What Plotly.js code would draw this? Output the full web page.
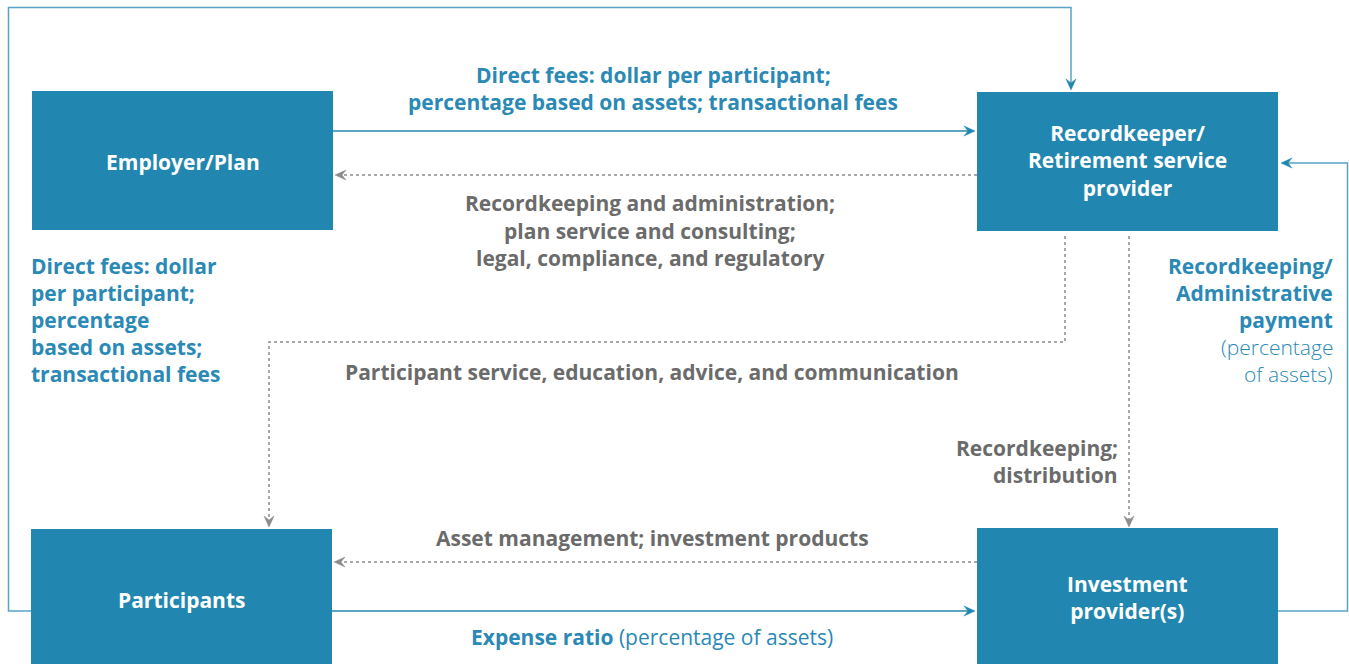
<!DOCTYPE html>
<html>
<head>
<meta charset="utf-8">
<script src="https://cdn.plot.ly/plotly-3.0.1.min.js"></script>
<style>html,body{margin:0;padding:0;background:#fff;}#chart{width:1349px;height:664px;}</style>
</head>
<body>
<div id="chart"></div>
<script>
// ---- content ----
var boxLabels = ["Employer/Plan", "Recordkeeper/<br>Retirement service<br>provider", "Participants", "Investment<br>provider(s)"];
var topFlowLabel = ["Direct fees: dollar per participant;", "percentage based on assets; transactional fees"];
var serviceLabel = ["Recordkeeping and administration;", "plan service and consulting;", "legal, compliance, and regulatory"];
var participantServiceLabel = ["Participant service, education, advice, and communication"];
var leftFeeLabel = ["Direct fees: dollar", "per participant;", "percentage", "based on assets;", "transactional fees"];
var rightPaymentBold = ["Recordkeeping/", "Administrative", "payment"];
var rightPaymentLight = ["(percentage", "of assets)"];
var distributionLabel = ["Recordkeeping;", "distribution"];
var assetLabel = ["Asset management; investment products"];
var expenseBold = "Expense ratio";
var expenseLight = " (percentage of assets)";

// ---- layout geometry ----
var boxX0 = [32, 977, 31, 977], boxX1 = [333, 1278, 332, 1278];
var boxY0 = [91, 92, 529, 528], boxY1 = [230, 231, 664, 664];
var boxLabelY = [162, 160, 600, 597];

var BLUE = "#2287b0", TXTBLUE = "#2a89b5", LOOP = "#5aa3c6", GRAY = "#8c8c8c", TXTGRAY = "#6b6b6b";
var FONT = "'Open Sans', Roboto, sans-serif";
var FS = 21;

var shapes = [], annotations = [];

function line(x0, y0, x1, y1, color, dash, w) {
  shapes.push({type: "line", xref: "x", yref: "y", x0: x0, y0: y0, x1: x1, y1: y1,
    line: {color: color, width: w || 1.5, dash: dash || "solid"}, layer: "below"});
}
function path(pts, color, dash, w) {
  var d = "M" + pts.map(function(p){return p[0] + "," + p[1];}).join(" L");
  shapes.push({type: "path", xref: "x", yref: "y", path: d,
    line: {color: color, width: w || 1.5, dash: dash || "solid"}, layer: "below"});
}
// barbed arrowhead; dir: 'r','l','u','d'
function head(x, y, dir, color) {
  var L = 11, W = 5, N = 7, p;
  if (dir === "r") p = [[x, y], [x - L, y - W], [x - N, y], [x - L, y + W]];
  if (dir === "l") p = [[x, y], [x + L, y - W], [x + N, y], [x + L, y + W]];
  if (dir === "d") p = [[x, y], [x - W, y - L], [x, y - N], [x + W, y - L]];
  if (dir === "u") p = [[x, y], [x - W, y + L], [x, y + N], [x + W, y + L]];
  var d = "M" + p.map(function(q){return q[0] + "," + q[1];}).join(" L") + " Z";
  shapes.push({type: "path", xref: "x", yref: "y", path: d, fillcolor: color,
    line: {color: color, width: 0.5}, layer: "above"});
}

// boxes
for (var i = 0; i < boxLabels.length; i++) {
  shapes.push({type: "rect", xref: "x", yref: "y", x0: boxX0[i], x1: boxX1[i], y0: boxY0[i], y1: boxY1[i],
    fillcolor: BLUE, line: {width: 0}, layer: "above"});
  annotations.push({x: (boxX0[i] + boxX1[i]) / 2, y: boxLabelY[i],
    xref: "x", yref: "y", text: "<b>" + boxLabels[i] + "</b>", showarrow: false,
    font: {family: FONT, size: FS, color: "#ffffff"}, align: "center", xanchor: "center", yanchor: "middle"});
}

// outer loop: Participants -> top -> Recordkeeper
path([[31, 611], [8.5, 611], [8.5, 7.5], [1071, 7.5], [1071, 88]], LOOP, "solid", 1.5);
head(1071, 90, "d", BLUE);
// Employer -> Recordkeeper
line(333, 131, 972, 131, BLUE, "solid", 1.5);
head(975, 131, "r", BLUE);
// Recordkeeper -> Employer (dotted)
line(977, 175, 340, 175, GRAY, "dot", 1.5);
head(335, 175, "l", GRAY);
// Recordkeeper -> Participants (dotted)
path([[1065, 236], [1065, 342], [269, 342], [269, 522]], GRAY, "dot", 1.5);
head(269, 527, "d", GRAY);
// Recordkeeper -> Investment (dotted)
line(1129, 236, 1129, 522, GRAY, "dot", 1.5);
head(1129, 527, "d", GRAY);
// Investment -> Participants (dotted)
line(977, 562, 340, 562, GRAY, "dot", 1.5);
head(334, 562, "l", GRAY);
// Participants -> Investment
line(332, 611, 972, 611, BLUE, "solid", 1.5);
head(975, 611, "r", BLUE);
// Investment -> Recordkeeper (right loop)
path([[1278, 611], [1347.5, 611], [1347.5, 163], [1286, 163]], LOOP, "solid", 1.5);
head(1281, 163, "l", BLUE);

// text helper
function textLines(lines, x, ys, color, anchor, bold, weight) {
  for (var k = 0; k < lines.length; k++) {
    var f = {family: FONT, size: FS, color: color};
    if (weight) f.weight = weight;
    annotations.push({x: x, y: ys[k], xref: "x", yref: "y", showarrow: false,
      text: bold ? "<b>" + lines[k] + "</b>" : lines[k],
      font: f, xanchor: anchor, yanchor: "middle", align: anchor});
  }
}
textLines(topFlowLabel, 653, [75, 102], TXTBLUE, "center", true);
textLines(serviceLabel, 650, [203, 231, 258], TXTGRAY, "center", true);
textLines(participantServiceLabel, 652, [372], TXTGRAY, "center", true);
textLines(leftFeeLabel, 29, [266, 293, 320, 347, 374], TXTBLUE, "left", true);
textLines(rightPaymentBold, 1335, [266, 293, 320], TXTBLUE, "right", true);
textLines(rightPaymentLight, 1335, [347, 374], TXTBLUE, "right", false, 300);
textLines(distributionLabel, 1120, [448, 475], TXTGRAY, "right", true);
textLines(assetLabel, 652, [538], TXTGRAY, "center", true);
annotations.push({x: 652, y: 637, xref: "x", yref: "y", showarrow: false,
  text: "<b>" + expenseBold + "</b>" + expenseLight,
  font: {family: FONT, size: FS, color: TXTBLUE}, xanchor: "center", yanchor: "middle"});

var layout = {
  width: 1349, height: 664,
  margin: {l: 0, r: 0, t: 0, b: 0, pad: 0},
  paper_bgcolor: "#ffffff", plot_bgcolor: "#ffffff",
  xaxis: {range: [0, 1349], visible: false, fixedrange: true},
  yaxis: {range: [664, 0], visible: false, fixedrange: true},
  showlegend: false,
  shapes: shapes, annotations: annotations
};
Plotly.newPlot("chart", [{x: [], y: [], type: "scatter"}], layout, {staticPlot: true, displayModeBar: false});
</script>
</body>
</html>
